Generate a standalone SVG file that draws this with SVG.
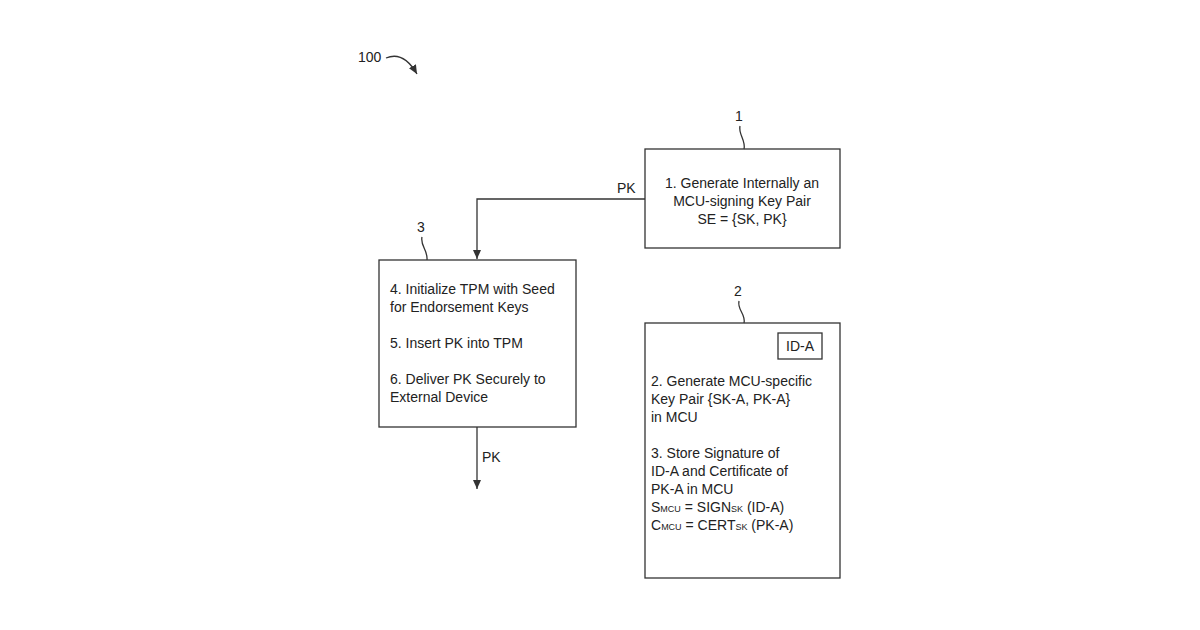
<svg xmlns="http://www.w3.org/2000/svg" width="1200" height="630" viewBox="0 0 1200 630">
<defs>
<marker id="ah" markerWidth="10" markerHeight="10" refX="9" refY="5" orient="auto" markerUnits="userSpaceOnUse"><path d="M0,1 L9,5 L0,9 Z" fill="#333"/></marker>
<style>
text{font-family:"Liberation Sans",Arial,sans-serif;font-size:14px;fill:#222}
.b{fill:#fff;stroke:#333;stroke-width:1.3}
.l{fill:none;stroke:#333;stroke-width:1.3}
.s{font-size:9px}
</style>
</defs>
<rect width="1200" height="630" fill="#fff"/>
<g id="label100">
<text x="358" y="62">100</text>
<path class="l" d="M386,58 C400,52 410,62 417,74" marker-end="url(#ah)"/>
</g>
<g id="node1">
<rect class="b" x="645" y="149" width="195" height="99"/>
<text x="742" y="188" text-anchor="middle">1. Generate Internally an</text>
<text x="742" y="206" text-anchor="middle">MCU-signing Key Pair</text>
<text x="742" y="224" text-anchor="middle">SE = {SK, PK}</text>
<text x="739" y="121" text-anchor="middle">1</text>
<path class="l" d="M740,126 C738,134 746,140 744,149"/>
</g>
<g id="node3">
<rect class="b" x="379" y="260" width="197" height="167"/>
<text x="390" y="294">4. Initialize TPM with Seed</text>
<text x="390" y="312">for Endorsement Keys</text>
<text x="390" y="348">5. Insert PK into TPM</text>
<text x="390" y="384">6. Deliver PK Securely to</text>
<text x="390" y="402">External Device</text>
<text x="421" y="232" text-anchor="middle">3</text>
<path class="l" d="M422,237 C420,246 428,250 427,260"/>
</g>
<g id="node2">
<rect class="b" x="645" y="323" width="195" height="255"/>
<rect class="b" x="778" y="333" width="44" height="26"/>
<text x="800" y="351" text-anchor="middle">ID-A</text>
<text x="651" y="386">2. Generate MCU-specific</text>
<text x="651" y="404">Key Pair {SK-A, PK-A}</text>
<text x="651" y="422">in MCU</text>
<text x="651" y="458">3. Store Signature of</text>
<text x="651" y="476">ID-A and Certificate of</text>
<text x="651" y="494">PK-A in MCU</text>
<text x="651" y="512">S<tspan class="s">MCU</tspan> = SIGN<tspan class="s">SK</tspan> (ID-A)</text>
<text x="651" y="530">C<tspan class="s">MCU</tspan> = CERT<tspan class="s">SK</tspan> (PK-A)</text>
<text x="738" y="296" text-anchor="middle">2</text>
<path class="l" d="M739,301 C737,310 746,314 744,323"/>
</g>
<g id="connectors">
<path class="l" d="M645,199 H477 V259" marker-end="url(#ah)"/>
<text x="617" y="193">PK</text>
<path class="l" d="M477,427 V489" marker-end="url(#ah)"/>
<text x="482" y="462">PK</text>
</g>
</svg>
